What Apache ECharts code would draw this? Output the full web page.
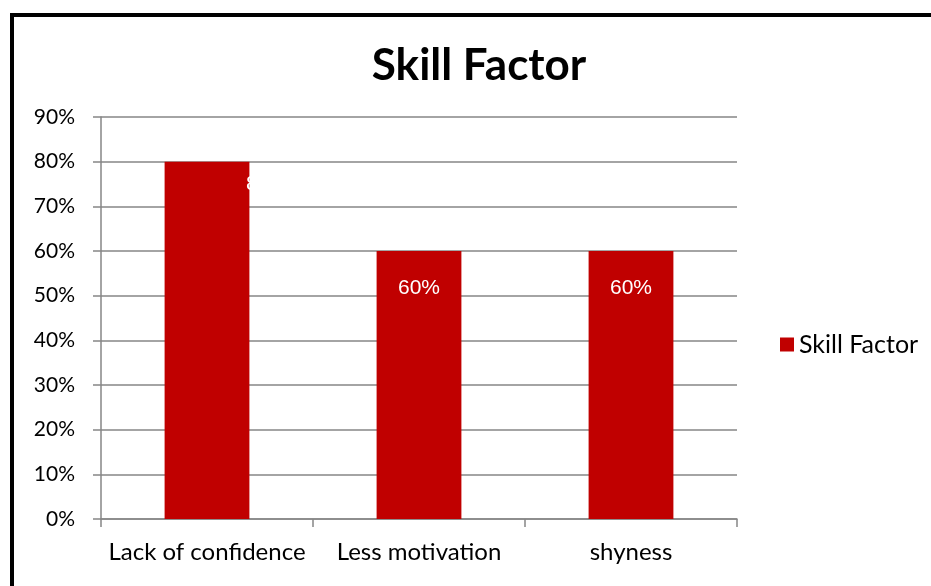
<!DOCTYPE html>
<html>
<head>
<meta charset="utf-8">
<script src="https://cdn.jsdelivr.net/npm/echarts@6/dist/echarts.min.js"></script>
<style>
html,body{margin:0;padding:0;background:#fff;}
#c{width:931px;height:586px;}
</style>
</head>
<body>
<div id="c"></div>
<script>
const categories = ['Lack of confidence', 'Less motivation', 'shyness'];
const values = [0.8, 0.6, 0.6];
const seriesName = 'Skill Factor';
const titleText = 'Skill Factor';

const labelOffsets = [[60, 7], [0, 22], [0, 22]];

const chart = echarts.init(document.getElementById('c'));
chart.setOption({
  animation: false,
  backgroundColor: '#fff',
  graphic: [{
    type: 'rect', silent: true, z: 100,
    shape: {x: 12, y: 15, width: 1100, height: 1000},
    style: {fill: 'none', stroke: '#000', lineWidth: 4}
  }],
  title: {
    text: titleText, left: 474, top: 39, textAlign: 'center',
    textStyle: {fontFamily: 'Lato', fontWeight: 'bold', fontSize: 44, color: '#000'}
  },
  legend: {
    left: 775, orient: 'vertical', top: 327,
    itemWidth: 14, itemHeight: 14, itemGap: 6,
    icon: 'rect',
    textStyle: {fontFamily: 'Lato', fontSize: 25, color: '#000'},
    data: [seriesName]
  },
  grid: {left: 101, right: 194, top: 117, bottom: 67, containLabel: false},
  xAxis: {
    type: 'category', data: categories,
    axisLine: {lineStyle: {color: '#868686', width: 1.5}},
    axisTick: {show: true, interval: 0, length: 8, alignWithLabel: false, lineStyle: {color: '#868686', width: 1.5}},
    axisLabel: {interval: 0, fontFamily: 'Lato', fontSize: 24, color: '#000', margin: 21}
  },
  yAxis: {
    type: 'value', min: 0, max: 0.9, interval: 0.1,
    axisLine: {show: true, lineStyle: {color: '#868686', width: 1.5}},
    axisTick: {show: true, length: 8, lineStyle: {color: '#868686', width: 1.5}},
    splitLine: {lineStyle: {color: '#868686', width: 1.5}},
    axisLabel: {fontFamily: 'Lato', fontSize: 21, color: '#000', margin: 26,
      formatter: v => Math.round(v * 100) + '%'}
  },
  series: [{
    name: seriesName, type: 'bar', barWidth: '40%',
    itemStyle: {color: '#C00000'},
    data: values.map((v, i) => ({
      value: v,
      label: {
        show: true, position: 'insideTop', offset: labelOffsets[i],
        color: '#fff', fontFamily: 'Liberation Sans', fontSize: 21,
        formatter: p => Math.round(p.value * 100) + '%'
      }
    }))
  }]
});
</script>
</body>
</html>
